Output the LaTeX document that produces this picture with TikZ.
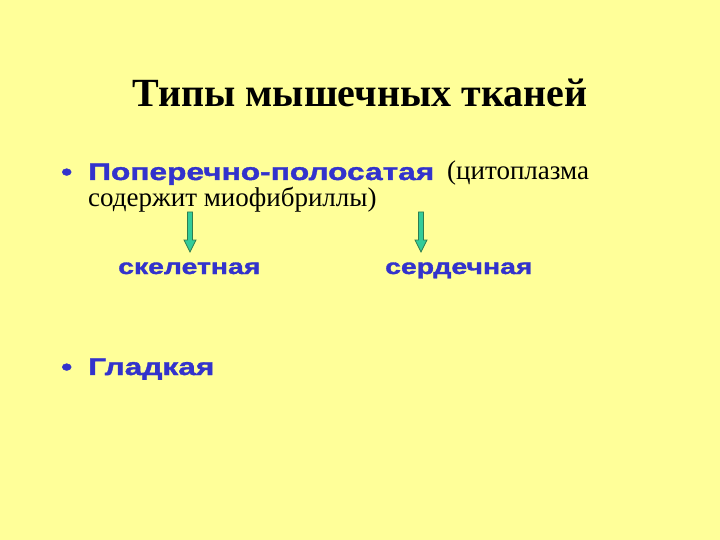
\documentclass[tikz,border=0pt]{standalone}
\usepackage{fontspec}
\setmainfont{Liberation Serif}
\newfontfamily\widesans[FakeStretch=1.32,FakeBold=1.5]{Liberation Sans}
\usepackage{xcolor}
\definecolor{slidebg}{HTML}{FFFF99}
\definecolor{slideblue}{HTML}{3333CC}
\definecolor{arrowfill}{HTML}{33CC99}
\definecolor{arrowline}{HTML}{2E7D4F}

\tikzset{
  title/.style={anchor=base,inner sep=0pt,font=\fontsize{40}{44}\selectfont\bfseries},
  bluetext/.style={anchor=base west,inner sep=0pt,text=slideblue,font=\widesans\bfseries\fontsize{24}{28}\selectfont},
  kindtext/.style={anchor=base west,inner sep=0pt,text=slideblue,font=\widesans\bfseries\fontsize{21.5}{24}\selectfont},
  plaintext/.style={anchor=base west,inner sep=0pt,font=\fontsize{27}{30}\selectfont},
  greenarrow/.style={fill=arrowfill,draw=arrowline,line width=0.8pt,line join=miter}
}

\begin{document}
\begin{tikzpicture}[x=1pt,y=-1pt]
\fill[slidebg] (0,0) rectangle (720,540);
\useasboundingbox (0,0) rectangle (720,540);
\node[title] (ttl) at (360,107) {Типы мышечных тканей};
\node[bluetext] (dot1) at (61,180) {•};
\node[bluetext] (striated) at (88,180) {Поперечно-полосатая};
\node[plaintext] (note1) at (447,180) {(цитоплазма};
\node[plaintext] (note2) at (88,206.5) {содержит миофибриллы)};
\filldraw[greenarrow] (187.5,212) -- (192.5,212) -- (192.5,240) -- (196,240) -- (190,252) -- (184,240) -- (187.5,240) -- cycle;
\filldraw[greenarrow] (418.5,212) -- (423.5,212) -- (423.5,240) -- (427,240) -- (421,252) -- (415,240) -- (418.5,240) -- cycle;
\node[kindtext] (skel) at (118,274) {скелетная};
\node[kindtext] (card) at (385,274) {сердечная};
\node[bluetext] (dot2) at (61,375) {•};
\node[bluetext] (smooth) at (88,375) {Гладкая};
\end{tikzpicture}
\end{document}
